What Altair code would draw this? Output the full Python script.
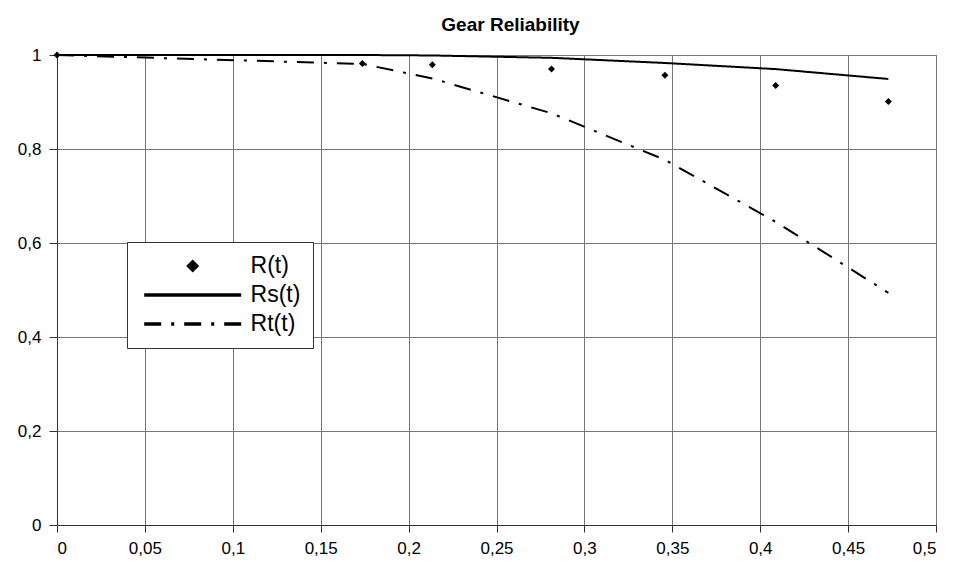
import altair as alt
import pandas as pd

# ---- data ----
t_vals = [0.0, 0.1737, 0.2135, 0.2813, 0.3458, 0.4088, 0.4729]
r_obs = [1.0, 0.982, 0.979, 0.970, 0.957, 0.935, 0.901]
rs_vals = [1.0, 1.0, 0.999, 0.994, 0.983, 0.970, 0.949]
rt_vals = [1.0, 0.981, 0.950, 0.876, 0.777, 0.645, 0.494]

series_names = ["R(t)", "Rs(t)", "Rt(t)"]
x_ticks = [0, 0.05, 0.1, 0.15, 0.2, 0.25, 0.3, 0.35, 0.4, 0.45, 0.5]
y_ticks = [0, 0.2, 0.4, 0.6, 0.8, 1]

pts = pd.DataFrame({"t": t_vals, "v": r_obs, "series": "R(t)"})
lines = pd.concat([
    pd.DataFrame({"t": t_vals, "v": rs_vals, "series": "Rs(t)"}),
    pd.DataFrame({"t": t_vals, "v": rt_vals, "series": "Rt(t)"}),
])

# custom diamond path (Vega scales it by sqrt(size)/2)
diamond_path = "M0,-0.134L0.134,0L0,0.134L-0.134,0Z"
shape_scale = alt.Scale(domain=["R(t)"], range=[diamond_path])
# R(t) has no line: an all-gap dash keeps its legend row free for the diamond
dash_scale = alt.Scale(domain=series_names, range=[[0, 1000], [1, 0], [17, 10, 3, 10]])

label_expr = "replace(format(datum.value, '~g'), '.', ',')"

common = dict(
    title=None, orient="none", legendX=70, legendY=187,
    symbolSize=9409, symbolStrokeWidth=3.5, clipHeight=24,
    symbolOffset=3.2, labelOffset=7.4, labelFont="Liberation Sans",
    labelFontSize=23, padding=12, rowPadding=5, cornerRadius=0,
    symbolOpacity=1,
)
# boxed legend with the line samples and all labels
legend_lines = alt.Legend(
    symbolType="stroke", symbolStrokeColor="black", labelColor="black",
    strokeColor="#333", fillColor="white", **common,
)
# diamond sample laid over the first row
legend_points = alt.Legend(
    symbolStrokeColor="transparent", symbolFillColor="black", labelOpacity=0,
    strokeColor="transparent", fillColor="transparent", **common,
)

x_enc = alt.X("t:Q", scale=alt.Scale(domain=[0, 0.5], nice=False, zero=False),
              axis=alt.Axis(values=x_ticks, labelExpr=label_expr, title=None,
                            tickSize=7, labelPadding=8))
y_enc = alt.Y("v:Q", scale=alt.Scale(domain=[0, 1], nice=False),
              axis=alt.Axis(values=y_ticks, labelExpr=label_expr, title=None,
                            tickSize=8, labelPadding=8))

line_layer = alt.Chart(lines).mark_line(color="black", strokeWidth=2).encode(
    x=x_enc, y=y_enc,
    strokeDash=alt.StrokeDash("series:N", scale=dash_scale, legend=legend_lines),
)

point_layer = alt.Chart(pts).mark_point(
    filled=True, color="black", size=2729, opacity=1
).encode(
    x=x_enc, y=y_enc,
    shape=alt.Shape("series:N", scale=shape_scale, legend=legend_points),
)

chart = alt.layer(line_layer, point_layer).properties(
    width=879, height=470,
    autosize="none",
    background="white",
    padding={"left": 57, "top": 55, "right": 19, "bottom": 41},
    title=alt.TitleParams("Gear Reliability", font="Liberation Sans",
                          fontSize=19, fontWeight="bold", color="black", anchor="middle",
                          frame="group", offset=14, dx=14, dy=3),
).configure_view(stroke="#333", strokeWidth=1).configure_axis(
    labelFont="Liberation Sans", labelFontSize=17, labelColor="black",
    gridColor="#777", gridWidth=1, gridOpacity=1,
    domainColor="#333", tickColor="#333", grid=True,
)

chart.save("out.html", embed_options={"renderer": "svg", "actions": False})
